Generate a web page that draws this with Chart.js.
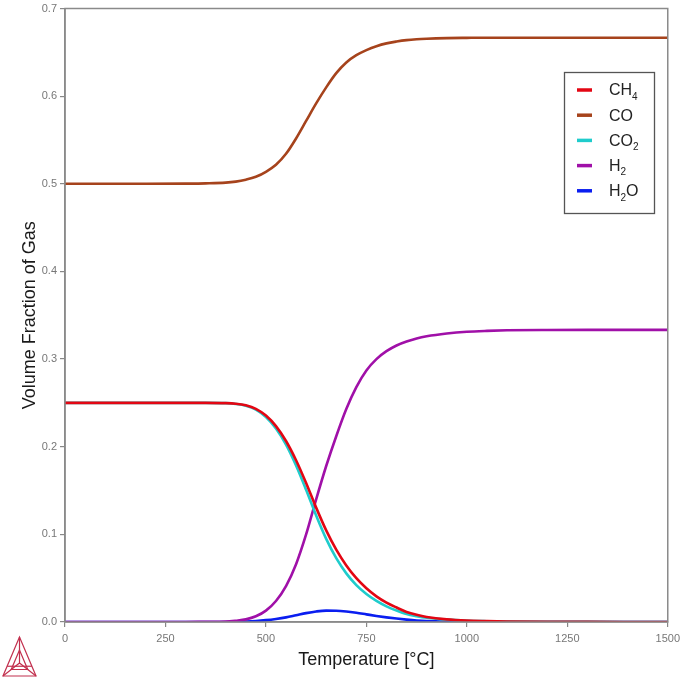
<!DOCTYPE html>
<html>
<head>
<meta charset="utf-8">
<script src="https://cdn.jsdelivr.net/npm/chart.js@4.4.1/dist/chart.umd.min.js"></script>
<style>
html,body{margin:0;padding:0;background:#fff;}
#wrap{width:685px;height:680px;position:relative;}
</style>
</head>
<body>
<div id="wrap"><canvas id="c"></canvas></div>
<script>
// Temperature [°C]
const temps = [0,100,200,300,350,400,425,450,475,500,525,550,575,600,625,650,675,700,725,750,775,800,825,850,875,900,950,1000,1050,1100,1200,1300,1400,1500];
const ch4 = [0.25,0.25,0.25,0.25,0.25,0.2497,0.249,0.2472,0.2432,0.2355,0.2235,0.2065,0.1845,0.1585,0.1305,0.1045,0.0825,0.0645,0.050,0.0385,0.0293,0.0221,0.0165,0.0115,0.0082,0.0058,0.0030,0.0016,0.0010,0.0006,0.0002,0.0001,0.00004,0.00002];
const co = [0.5,0.5,0.5,0.5002,0.5005,0.5013,0.5025,0.5047,0.508,0.5137,0.5217,0.5342,0.5517,0.5717,0.5917,0.610,0.6262,0.6384,0.6467,0.6525,0.657,0.6602,0.6623,0.6639,0.6649,0.6655,0.6662,0.6665,0.6667,0.6667,0.6667,0.6667,0.6667,0.6667];
const co2 = [0.25,0.25,0.25,0.25,0.25,0.2497,0.2488,0.2468,0.2424,0.2339,0.2209,0.2025,0.1787,0.1509,0.1215,0.0948,0.0728,0.0555,0.0421,0.0320,0.0241,0.0179,0.0131,0.0091,0.0067,0.0049,0.0027,0.0015,0.0009,0.0005,0.0002,0.0001,0.00004,0.00002];
const h2 = [0,0,0,0,0.0002,0.0005,0.0015,0.003,0.0065,0.013,0.024,0.041,0.066,0.100,0.140,0.178,0.212,0.243,0.268,0.287,0.300,0.309,0.3155,0.320,0.3235,0.326,0.3292,0.3312,0.3322,0.3328,0.3332,0.3333,0.3333,0.3333];
const h2o = [0,0,0,0,0,0,0.0002,0.0005,0.0011,0.0021,0.0035,0.0053,0.0077,0.0101,0.0120,0.0130,0.0129,0.0120,0.0105,0.0087,0.0069,0.0053,0.0039,0.0027,0.0017,0.0010,0.0003,0.0001,0,0,0,0,0,0];

const seriesLabels = ['CH4','CO','CO2','H2','H2O'];
const seriesValues = [ch4, co, co2, h2, h2o];
const seriesColors = ['#e30613','#a6431c','#1fcccc','#a010a8','#0a1ef0'];

const xTicks = [0,250,500,750,1000,1250,1500];
const yTicks = [0,0.1,0.2,0.3,0.4,0.5,0.6,0.7];

const FONT = '"Liberation Sans", Arial, sans-serif';

const datasets = seriesLabels.map((lab,i)=>({
  label: lab,
  data: temps.map((t,k)=>({x:t,y:seriesValues[i][k]})),
  borderColor: seriesColors[i],
  backgroundColor: seriesColors[i],
  borderWidth: 2.6,
  pointRadius: 0,
  fill: false,
  cubicInterpolationMode: 'monotone'
}));

const framePlugin = {
  id: 'frame',
  afterDatasetsDraw(chart){
    const {ctx, chartArea:a} = chart;
    ctx.save();
    ctx.strokeStyle = '#8a8a8a';
    ctx.lineWidth = 1.5;
    ctx.strokeRect(a.left, a.top, a.right-a.left, a.bottom-a.top);
    ctx.restore();
  }
};

function drawSubText(ctx, text, x, y){
  // digits drawn as subscripts
  let cx = x;
  for (const ch of text){
    if (/[0-9]/.test(ch)){
      ctx.font = '10px ' + FONT;
      ctx.fillText(ch, cx, y + 6);
      cx += ctx.measureText(ch).width;
    } else {
      ctx.font = '16px ' + FONT;
      ctx.fillText(ch, cx, y);
      cx += ctx.measureText(ch).width;
    }
  }
}

const legendPlugin = {
  id: 'boxLegend',
  afterDraw(chart){
    const ctx = chart.ctx;
    const bx = 564.5, by = 72.5, bw = 90, bh = 141;
    ctx.save();
    ctx.fillStyle = '#fff';
    ctx.fillRect(bx, by, bw, bh);
    ctx.strokeStyle = '#555';
    ctx.lineWidth = 1.3;
    ctx.strokeRect(bx, by, bw, bh);
    chart.data.datasets.forEach((ds,i)=>{
      const y = 90 + i*25.2;
      ctx.strokeStyle = ds.borderColor;
      ctx.lineWidth = 3.5;
      ctx.beginPath();
      ctx.moveTo(577, y);
      ctx.lineTo(592, y);
      ctx.stroke();
      ctx.fillStyle = '#222';
      ctx.textBaseline = 'middle';
      ctx.textAlign = 'left';
      drawSubText(ctx, ds.label, 609, y + 1);
    });
    ctx.restore();
  }
};

const logoPlugin = {
  id: 'logo',
  afterDraw(chart){
    const ctx = chart.ctx;
    const A = [19.5, 637], B = [3, 676], C = [36, 676];
    const G = [19.5, 663];
    const mid = (p,q,t)=>[p[0]+(q[0]-p[0])*t, p[1]+(q[1]-p[1])*t];
    ctx.save();
    ctx.strokeStyle = '#c2304e';
    ctx.lineWidth = 1.2;
    ctx.beginPath();
    ctx.moveTo(...A); ctx.lineTo(...B); ctx.lineTo(...C); ctx.closePath();
    ctx.stroke();
    ctx.beginPath();
    ctx.moveTo(...A); ctx.lineTo(...G);
    ctx.moveTo(...B); ctx.lineTo(...G);
    ctx.moveTo(...C); ctx.lineTo(...G);
    ctx.stroke();
    const a2 = mid(G,A,0.5), b2 = mid(G,B,0.5), c2 = mid(G,C,0.5);
    ctx.beginPath();
    ctx.moveTo(...a2); ctx.lineTo(...b2); ctx.lineTo(...c2); ctx.closePath();
    ctx.stroke();
    ctx.beginPath();
    const l1 = mid(A,B,0.75), r1 = mid(A,C,0.75);
    ctx.moveTo(...l1); ctx.lineTo(...r1);
    ctx.stroke();
    ctx.restore();
  }
};

new Chart(document.getElementById('c'), {
  type: 'line',
  data: { datasets },
  options: {
    responsive: true,
    maintainAspectRatio: false,
    animation: false,
    layout: { padding: { top: 0, right: 15, left: 0, bottom: 0 } },
    plugins: { legend: { display: false }, tooltip: { enabled: false } },
    scales: {
      x: {
        type: 'linear', min: 0, max: 1500,
        afterBuildTicks(s){ s.ticks = xTicks.map(v=>({value:v})); },
        afterFit(s){ s.height = 58; },
        ticks: { color: '#777', font: { family: FONT, size: 11 }, padding: 5, maxRotation: 0,
                 callback: v => String(v) },
        grid: { drawOnChartArea: false, drawTicks: true, tickLength: 5, color: '#888', lineWidth: 1.2 },
        border: { display: true, color: '#8a8a8a', width: 1.5 },
        title: { display: true, text: 'Temperature [°C]', color: '#1a1a1a',
                 font: { family: FONT, size: 18 }, padding: { top: 2, bottom: 9 } }
      },
      y: {
        type: 'linear', min: 0, max: 0.7,
        afterBuildTicks(s){ s.ticks = yTicks.map(v=>({value:v})); },
        afterFit(s){ s.width = 65; },
        ticks: { color: '#777', font: { family: FONT, size: 11, lineHeight: 1.0 }, padding: 3,
                 callback: v => Number(v).toFixed(1) },
        grid: { drawOnChartArea: false, drawTicks: true, tickLength: 5, color: '#888', lineWidth: 1.2 },
        border: { display: true, color: '#8a8a8a', width: 1.5 },
        title: { display: true, text: 'Volume Fraction of Gas', color: '#1a1a1a',
                 font: { family: FONT, size: 18 }, padding: { top: 19, bottom: 0 } }
      }
    }
  },
  plugins: [framePlugin, legendPlugin, logoPlugin]
});
</script>
</body>
</html>
